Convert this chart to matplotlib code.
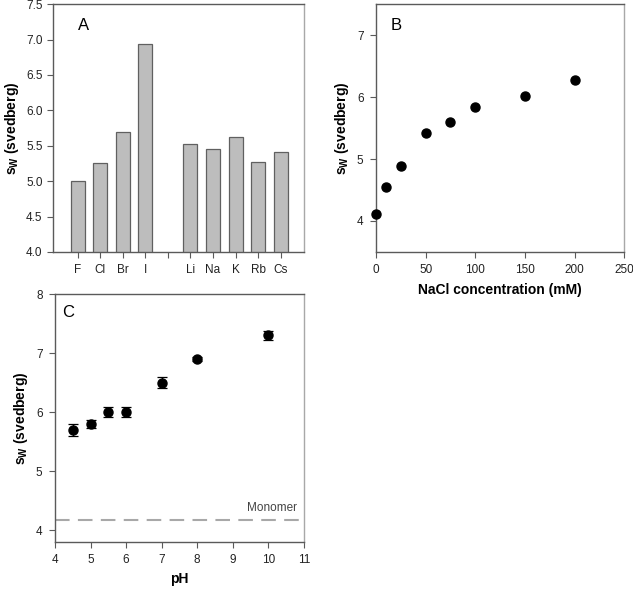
import numpy as np
import matplotlib
matplotlib.use("Agg")
import matplotlib.pyplot as plt

plt.rcParams['font.family'] = ['Liberation Sans', 'DejaVu Sans']
plt.rcParams['mathtext.fontset'] = 'custom'
plt.rcParams['mathtext.bf'] = 'Liberation Sans:bold'
plt.rcParams['mathtext.rm'] = 'Liberation Sans'

# panel A: ions
ions = ['F', 'Cl', 'Br', 'I', '', 'Li', 'Na', 'K', 'Rb', 'Cs']
ion_sw = [5.00, 5.26, 5.70, 6.94, np.nan, 5.52, 5.46, 5.62, 5.27, 5.41]

# panel B: NaCl concentration
nacl = [0, 10, 25, 50, 75, 100, 150, 200]
nacl_sw = [4.11, 4.55, 4.88, 5.42, 5.59, 5.84, 6.02, 6.27]

# panel C: pH
ph = [4.5, 5.0, 5.5, 6.0, 7.0, 8.0, 10.0]
ph_sw = [5.70, 5.80, 6.00, 6.00, 6.50, 6.90, 7.30]
ph_err = [0.10, 0.07, 0.08, 0.08, 0.09, 0.03, 0.08]
monomer = 4.18

dark = '#5a5a5a'
light = '#a8a8a8'
ylab = r'$\mathbf{s_W}$ $\mathbf{(svedberg)}$'


def style(ax):
    for s in ['left', 'bottom', 'top']:
        ax.spines[s].set_color(dark)
    ax.spines['right'].set_color(light)
    for s in ax.spines.values():
        s.set_linewidth(1.0)
    ax.tick_params(direction='out', length=4, width=0.8, colors=dark,
                   labelcolor='#222222', labelsize=8.5)
    ax.tick_params(top=False, right=False)


fig = plt.figure(figsize=(6.33, 5.9), dpi=100)

axA = fig.add_axes([0.0837, 0.573, 0.397, 0.420])
pos = np.arange(len(ions))
axA.bar(pos, ion_sw, width=0.62, bottom=0, color='#bdbdbd',
        edgecolor='#606060', linewidth=0.9)
axA.set_xticks(pos)
axA.set_xticklabels(ions)
axA.set_xlim(-1.1, 10.05)
axA.set_ylim(4.0, 7.5)
axA.set_yticks(np.arange(4.0, 7.51, 0.5))
axA.set_yticklabels(['%.1f' % v for v in np.arange(4.0, 7.51, 0.5)])
axA.set_ylabel(ylab, fontsize=10)
axA.text(0.10, 0.945, 'A', transform=axA.transAxes, fontsize=12, va='top')
style(axA)
axA.tick_params(axis='x', pad=5)

axB = fig.add_axes([0.594, 0.573, 0.392, 0.420])
axB.plot(nacl, nacl_sw, 'o', color='black', markersize=6.5, clip_on=False,
         zorder=3)
axB.set_xlim(0, 250)
axB.set_ylim(3.5, 7.5)
axB.set_yticks([4, 5, 6, 7])
axB.set_xticks([0, 50, 100, 150, 200, 250])
axB.set_ylabel(ylab, fontsize=10)
axB.set_xlabel('NaCl concentration (mM)', fontsize=10, fontweight='bold',
               labelpad=5)
axB.text(0.06, 0.945, 'B', transform=axB.transAxes, fontsize=12, va='top')
style(axB)
axB.tick_params(pad=5)

axC = fig.add_axes([0.0869, 0.0814, 0.393, 0.420])
axC.errorbar(ph, ph_sw, yerr=ph_err, fmt='o', color='black', markersize=6.5,
             capsize=3.5, elinewidth=0.9, capthick=0.9)
axC.axhline(monomer, color='#a8a8a8', linestyle=(0, (7, 4)), linewidth=1.5)
axC.text(10.8, monomer + 0.1, 'Monomer', color='#444444', fontsize=8.5,
         ha='right', va='bottom')
axC.set_xlim(4, 11)
axC.set_ylim(3.8, 8)
axC.set_xticks(range(4, 12))
axC.set_yticks([4, 5, 6, 7, 8])
axC.set_ylabel(ylab, fontsize=10)
axC.set_xlabel('pH', fontsize=10, fontweight='bold', labelpad=4)
axC.text(0.03, 0.955, 'C', transform=axC.transAxes, fontsize=12, va='top')
style(axC)
axC.tick_params(pad=5)

fig.savefig('out.png', dpi=100)
